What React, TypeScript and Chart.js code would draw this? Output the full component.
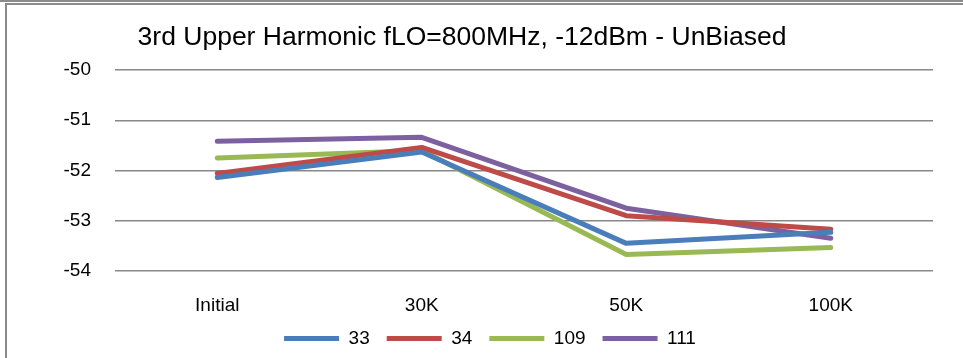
import React, { useEffect, useRef } from "react";
import { Chart, registerables } from "chart.js";

Chart.register(...registerables);

const categories = ["Initial", "30K", "50K", "100K"];
const seriesNames = ["33", "34", "109", "111"];
const values33 = [-52.14, -51.63, -53.45, -53.23];
const values34 = [-52.06, -51.54, -52.9, -53.17];
const values109 = [-51.75, -51.6, -53.67, -53.53];
const values111 = [-51.42, -51.34, -52.75, -53.35];
const seriesColors = ["#4A7EBB", "#BE4B48", "#98B954", "#7D60A0"];
const yMin = -54;
const yMax = -50;
const yStep = 1;
const titleText = "3rd Upper Harmonic fLO=800MHz, -12dBm - UnBiased";

const FONT = "'Liberation Sans', Arial, sans-serif";

const legendShift = {
  id: "legendShift",
  afterLayout(chart: any) {
    const l = chart.legend;
    if (l) {
      l.left += 28;
      l.right += 28;
    }
  },
};

export default function App() {
  const canvasRef = useRef<HTMLCanvasElement | null>(null);

  useEffect(() => {
    const canvas = canvasRef.current;
    if (!canvas) return;
    const allValues = [values33, values34, values109, values111];
    const chart = new Chart(canvas, {
      type: "line",
      data: {
        labels: categories,
        datasets: seriesNames.map((name, i) => ({
          label: name,
          data: allValues[i],
          borderColor: seriesColors[i],
          backgroundColor: seriesColors[i],
          borderWidth: 5,
          borderCapStyle: "round",
          borderJoinStyle: "round",
          pointRadius: 0,
          pointHoverRadius: 0,
          tension: 0,
          fill: false,
        })),
      },
      plugins: [legendShift],
      options: {
        responsive: false,
        devicePixelRatio: 1,
        animation: false,
        events: [],
        layout: { padding: { left: 0, right: 24, top: 0, bottom: 0 } },
        plugins: {
          title: {
            display: true,
            text: titleText,
            color: "#000",
            font: { family: FONT, size: 26.5, weight: "normal" },
            padding: { top: 17, bottom: 16.2 },
          },
          legend: {
            position: "bottom",
            labels: {
              usePointStyle: true,
              pointStyle: "line",
              pointStyleWidth: 55,
              color: "#000",
              font: { family: FONT, size: 19 },
              padding: 17,
            },
          },
          tooltip: { enabled: false },
        },
        scales: {
          x: {
            offset: true,
            grid: { display: false, drawTicks: false },
            border: { display: false },
            ticks: {
              color: "#000",
              font: { family: FONT, size: 19 },
              padding: 23,
              maxRotation: 0,
            },
            afterFit: (scale: any) => {
              scale.height = 41;
            },
          },
          y: {
            min: yMin,
            max: yMax,
            grid: { color: "#888", lineWidth: 1.5, drawTicks: false },
            border: { display: false },
            ticks: {
              stepSize: yStep,
              color: "#000",
              font: { family: FONT, size: 19 },
              padding: 24,
            },
            afterFit: (scale: any) => {
              scale.width = 124;
            },
          },
        },
      },
    } as any);
    return () => chart.destroy();
  }, []);

  return (
    <div
      style={{
        position: "fixed",
        left: 0,
        top: 0,
        width: 963,
        height: 358,
        background: "#fff",
        overflow: "hidden",
      }}
    >
      <canvas
        ref={canvasRef}
        width={966}
        height={353}
        style={{ position: "absolute", left: -9, top: 5, width: 966, height: 353 }}
      />
      <div
        style={{
          position: "absolute",
          left: 0,
          top: 0,
          width: 963,
          height: 2,
          background: "#8a8a8a",
        }}
      />
      <div
        style={{
          position: "absolute",
          left: 5,
          top: 3,
          width: 970,
          height: 400,
          borderTop: "2px solid #8a8a8a",
          borderLeft: "2px solid #8a8a8a",
          pointerEvents: "none",
        }}
      />
    </div>
  );
}
